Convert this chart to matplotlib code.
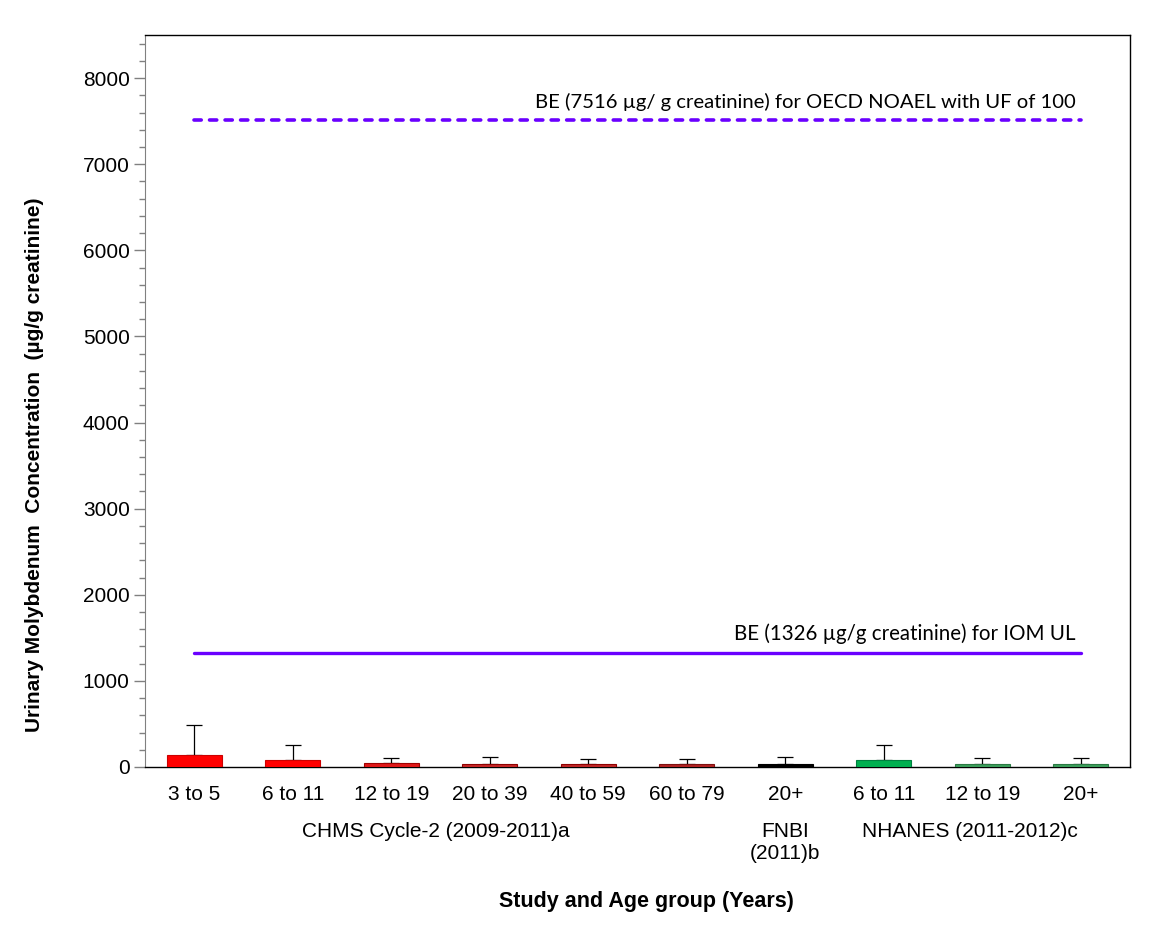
import matplotlib
matplotlib.use("Agg")
import matplotlib.pyplot as plt
import numpy as np
from matplotlib.ticker import MultipleLocator

# data
age_groups = ["3 to 5", "6 to 11", "12 to 19", "20 to 39", "40 to 59", "60 to 79",
              "20+", "6 to 11", "12 to 19", "20+"]
means = [140, 80, 45, 30, 30, 30, 30, 80, 35, 35]
upper_err = [350, 175, 60, 82, 60, 60, 82, 175, 70, 70]
bar_colors = ["#FF0000", "#FF0000", "#E01818", "#C82828", "#C02828", "#B22222",
              "#000000", "#00B050", "#3CA05C", "#3CA05C"]
edge_colors = ["#CC0000", "#CC0000", "#A00000", "#900000", "#900000", "#801010",
               "#000000", "#008040", "#2A7A44", "#2A7A44"]

iom_ul = 1326
oecd_be = 7516

studies = ["CHMS Cycle-2 (2009-2011)a", "FNBI\n(2011)b", "NHANES (2011-2012)c"]
study_pos = [2.45, 6.0, 7.87]

fig = plt.figure(figsize=(11.68, 9.39), dpi=100)
ax = fig.add_axes([0.1241, 0.1832, 0.8434, 0.7795])

x = np.arange(len(age_groups))
ax.bar(x, means, width=0.56, color=bar_colors, edgecolor=edge_colors, linewidth=0.8, zorder=3)
ax.errorbar(x, means, yerr=[np.zeros(len(means)), upper_err], fmt="none",
            ecolor="black", elinewidth=0.9, capsize=6, capthick=0.9, zorder=2)

# benchmark lines
ax.plot([x[0], x[-1]], [iom_ul, iom_ul], color="#6A00FF", lw=2.4, solid_capstyle="round", zorder=4)
ax.plot([x[0], x[-1]], [oecd_be, oecd_be], color="#6A00FF", lw=2.6, dashes=(2.0, 2.3),
        dash_capstyle="round", zorder=4)
ax.text(8.95, iom_ul + 100, "BE (1326 µg/g creatinine) for IOM UL", ha="right", va="bottom",
        fontsize=14.8, family=["Lato", "DejaVu Sans"])
ax.text(8.95, oecd_be + 100, "BE (7516 µg/ g creatinine) for OECD NOAEL with UF of 100",
        ha="right", va="bottom", fontsize=14.6, family=["Lato", "DejaVu Sans"])

ax.set_xlim(-0.5, len(age_groups) - 0.5)
ax.set_ylim(0, 8500)
ax.yaxis.set_major_locator(MultipleLocator(1000))
ax.yaxis.set_minor_locator(MultipleLocator(200))
ax.set_yticks([0, 1000, 2000, 3000, 4000, 5000, 6000, 7000, 8000])
ax.set_xticks(x)
ax.set_xticklabels(age_groups, fontsize=15, family="Liberation Sans")
for lbl in ax.get_yticklabels():
    lbl.set_fontsize(15)
    lbl.set_family("Liberation Sans")
ax.tick_params(axis="x", length=0, pad=13)
ax.tick_params(axis="y", which="major", direction="out", length=8, color="#808080", width=1, pad=3)
ax.tick_params(axis="y", which="minor", direction="out", length=4, color="#808080", width=1)

ax.spines["left"].set_color("#808080")
for side in ["top", "right", "bottom"]:
    ax.spines[side].set_color("black")
    ax.spines[side].set_linewidth(1)

# study group labels under the age labels
for s, p in zip(studies, study_pos):
    ax.text(p, -640, s, ha="center", va="top", fontsize=15, family="Liberation Sans",
            linespacing=1.2)

fig.text(646 / 1168, 1 - 902 / 939, "Study and Age group (Years)", ha="center", va="center",
         fontsize=15.5, fontweight="bold", family="Liberation Sans")
fig.text(35 / 1168, 1 - 465 / 939, "Urinary Molybdenum  Concentration  (µg/g creatinine)",
         rotation=90, ha="center", va="center", fontsize=15, fontweight="bold",
         family="Liberation Sans")

fig.savefig("out.png", dpi=100)
